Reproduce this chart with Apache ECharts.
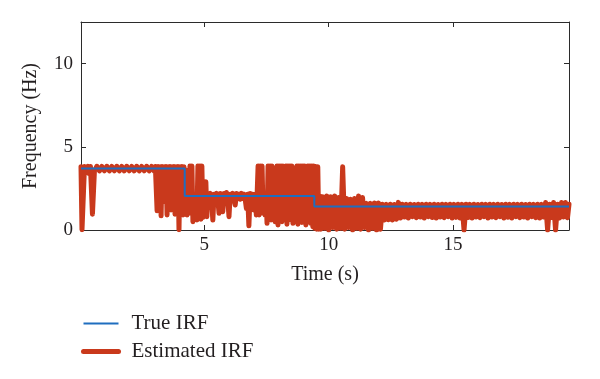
<!DOCTYPE html>
<html>
<head>
<meta charset="utf-8">
<script src="https://cdn.jsdelivr.net/npm/echarts@6/dist/echarts.min.js"></script>
<style>
html,body{margin:0;padding:0;background:#fff;}
#c{width:600px;height:379px;}
</style>
</head>
<body>
<div id="c"></div>
<script>
// ---- data ----
const xTicks = [5, 10, 15];
const yTicks = [0, 5, 10];

const trueTime = [0.04, 4.21, 4.21, 9.42, 9.42, 19.66];
const trueFreq = [3.70, 3.70, 2.04, 2.04, 1.41, 1.41];

// Estimated IRF, [time (s), frequency (Hz)], in pieces
const estStart = [
  [0.04,3.8],[0.08,0.02],[0.14,0.02],[0.18,3.82],[0.26,3.55],[0.32,3.82],[0.36,3.4],[0.42,3.82],
  [0.5,0.95],[0.58,3.55],[0.68,3.83],[0.78,3.55],[0.88,3.82],[0.98,3.56],[1.08,3.83],[1.18,3.55],
  [1.28,3.82],[1.38,3.56],[1.48,3.83],[1.58,3.55],[1.68,3.82],[1.78,3.55],[1.88,3.83],[1.98,3.56],
  [2.08,3.82],[2.18,3.55],[2.28,3.83],[2.38,3.55],[2.48,3.82],[2.58,3.56],[2.68,3.83],[2.78,3.55],
  [2.88,3.82],[2.98,3.55],[3.03,3.82]
];
const estFirstDrop = [
  [3.06,3.82],[3.1,1.15],[3.14,3.82],[3.18,1.8],[3.22,3.8],[3.26,0.85],[3.3,3.82],[3.34,1.7],
  [3.38,3.8],[3.42,1.75],[3.46,3.82],[3.5,0.9],[3.54,3.8],[3.58,1.65],[3.62,3.82],[3.66,1.2],
  [3.7,3.8],[3.74,1.7],[3.78,3.82],[3.82,0.95],[3.86,3.8],[3.9,1.6],[3.94,3.82],[3.98,0.02],
  [4.02,3.8],[4.06,1.5],[4.1,3.82],[4.14,0.9],[4.18,3.8],[4.22,1.7],[4.26,3.6],[4.3,0.9],
  [4.34,2.1],[4.38,1.0],[4.42,3.85],[4.46,1.2],[4.5,3.85],[4.54,0.5],[4.58,2.1],[4.62,1.3],
  [4.66,2.1],[4.7,0.6],[4.74,3.85],[4.78,1.1],[4.82,3.85],[4.86,0.65],[4.9,3.85],[4.94,0.75],
  [4.98,2.9],[5.02,1.2],[5.06,2.9],[5.1,0.8]
];
const estMiddle = [
  [5.14,2.15],[5.19,1.9],[5.24,2.2],[5.29,1.85],[5.34,0.6],[5.39,2.15],[5.44,1.9],[5.49,2.2],
  [5.54,1.85],[5.59,1.0],[5.64,2.2],[5.69,1.85],[5.74,1.1],[5.79,2.2],[5.84,1.9],[5.89,2.25],
  [5.94,1.85],[5.99,0.8],[6.04,2.15],[6.09,1.9],[6.14,2.2],[6.19,1.85],[6.24,1.5],[6.29,2.2],
  [6.34,1.9],[6.39,2.15],[6.44,1.85],[6.49,2.2],[6.54,1.9],[6.59,2.15],[6.64,1.85],[6.69,1.3],
  [6.74,2.15],[6.79,0.25],[6.84,2.2],[6.89,1.7],[6.94,2.15],[6.99,1.2],[7.04,2.15],[7.09,0.9],
  [7.12,2.1]
];
const estSpikes = [
  [7.16,3.85],[7.2,0.9],[7.24,3.85],[7.28,1.2],[7.32,3.85],[7.36,1.0],[7.4,2.1],[7.44,0.9],
  [7.48,2.1],[7.52,0.4],[7.56,3.85],[7.6,0.8],[7.64,3.85],[7.68,0.6],[7.72,3.85],[7.76,1.0],
  [7.8,2.1],[7.84,0.5],[7.88,2.1],[7.92,3.85],[7.96,0.3],[8.0,3.85],[8.04,0.6],[8.08,3.85],
  [8.12,0.5],[8.16,3.85],[8.2,0.7],[8.24,2.1],[8.28,3.85],[8.32,0.35],[8.36,3.85],[8.4,0.6],
  [8.44,3.85],[8.48,0.7],[8.52,3.85],[8.56,0.4],[8.6,2.1],[8.64,0.5],[8.68,2.1],[8.72,3.85],
  [8.76,0.35],[8.8,3.85],[8.84,0.6],[8.88,3.85],[8.92,0.45],[8.96,3.85],[9.0,0.5],[9.04,3.85],
  [9.08,0.3],[9.12,2.1],[9.16,3.85],[9.2,0.5],[9.24,3.85],[9.28,0.4],[9.32,3.85],[9.36,0.2],
  [9.4,3.85],[9.44,0.1],[9.48,3.82],[9.52,0.05],[9.56,3.8]
];
const estSettle = [
  [9.6,0.05],[9.64,2.05],[9.68,0.05],[9.76,2.0],[9.84,0.1],[9.92,2.05],[10.0,0.0],[10.08,2.0],
  [10.16,0.15],[10.24,2.05],[10.32,0.05],[10.4,1.95],[10.48,0.1],[10.56,3.8],[10.64,0.05],[10.72,1.9],
  [10.8,0.15],[10.88,1.85],[10.96,0.0],[11.04,1.9],[11.12,0.1],[11.2,2.05],[11.28,0.05],[11.36,1.95],
  [11.44,0.15],[11.52,1.6],[11.6,0.0],[11.68,1.6],[11.76,0.1],[11.84,1.62],[11.92,0.0],[12.0,1.62],
  [12.08,0.05]
];
const estTail = [
  [12.16,1.55],[12.24,0.6],[12.32,1.54],[12.4,0.62],[12.48,1.55],[12.56,0.6],[12.64,1.53],[12.72,0.65],
  [12.8,1.66],[12.88,0.72],[12.96,1.55],[13.04,0.78],[13.12,1.54],[13.2,0.72],[13.28,1.55],[13.36,0.8],
  [13.44,1.53],[13.52,0.74],[13.6,1.55],[13.68,0.78],[13.76,1.54],[13.84,0.72],[13.92,1.55],[14.0,0.8],
  [14.08,1.54],[14.16,0.75],[14.24,1.55],[14.32,0.72],[14.4,1.53],[14.48,0.78],[14.56,1.55],[14.64,0.74],
  [14.72,1.54],[14.8,0.8],[14.88,1.55],[14.96,0.72],[15.04,1.54],[15.12,0.76],[15.2,1.55],[15.28,0.72],
  [15.36,1.54],[15.44,0.0],[15.52,1.55],[15.6,0.75],[15.68,1.54],[15.76,0.72],[15.84,1.55],[15.92,0.78],
  [16.0,1.53],[16.08,0.74],[16.16,1.55],[16.24,0.8],[16.32,1.54],[16.4,0.72],[16.48,1.55],[16.56,0.78],
  [16.64,1.54],[16.72,0.74],[16.8,1.55],[16.88,0.8],[16.96,1.53],[17.04,0.72],[17.12,1.55],[17.2,0.76],
  [17.28,1.54],[17.36,0.72],[17.44,1.55],[17.52,0.8],[17.6,1.54],[17.68,0.74],[17.76,1.55],[17.84,0.78],
  [17.92,1.53],[18.0,0.72],[18.08,1.55],[18.16,0.8],[18.24,1.54],[18.32,0.74],[18.4,1.55],[18.48,0.72],
  [18.56,1.54],[18.64,0.78],[18.72,1.65],[18.8,0.0],[18.88,1.55],[18.96,0.75],[19.04,1.65],[19.12,0.0],
  [19.2,1.55],[19.28,0.72],[19.36,1.65],[19.44,0.78],[19.52,1.65],[19.6,0.74],[19.66,1.55]
];

// ---- build ----
const estimated = [].concat(estStart, estFirstDrop, estMiddle, estSpikes, estSettle, estTail);
const truePts = trueTime.map((t, i) => [t, trueFreq[i]]);

const FONT = '"Liberation Serif", "DejaVu Serif", serif';
const TXT = '#231f20';
const AX = '#2b2b2b';
const RED = '#c9391c';
const BLUE = '#1f6ebf';

const chart = echarts.init(document.getElementById('c'), null, {renderer: 'canvas'});
const axisCommon = {
  axisLine: {show: true, onZero: false, lineStyle: {color: AX, width: 1}},
  splitLine: {show: false}
};
chart.setOption({
  animation: false,
  backgroundColor: '#fff',
  grid: {left: 81, right: 31, top: 22, bottom: 149},
  xAxis: [
    Object.assign({
      type: 'value', min: 0.04, max: 19.66, position: 'bottom',
      axisTick: {show: true, inside: true, length: 5, customValues: xTicks, lineStyle: {color: AX}},
      axisLabel: {customValues: xTicks, fontFamily: FONT, fontSize: 19, color: TXT, margin: 6},
      name: 'Time (s)', nameLocation: 'middle', nameGap: 35,
      nameTextStyle: {fontFamily: FONT, fontSize: 20, color: TXT}
    }, axisCommon),
    Object.assign({
      type: 'value', min: 0.04, max: 19.66, position: 'top',
      axisTick: {show: true, inside: true, length: 5, customValues: xTicks, lineStyle: {color: AX}},
      axisLabel: {show: false}
    }, axisCommon)
  ],
  yAxis: [
    Object.assign({
      type: 'value', min: 0, max: 12.5, position: 'left',
      axisTick: {show: true, inside: true, length: 5, customValues: [5, 10], lineStyle: {color: AX}},
      axisLabel: {customValues: yTicks, fontFamily: FONT, fontSize: 19, color: TXT, margin: 8},
      name: 'Frequency (Hz)', nameLocation: 'middle', nameGap: 40,
      nameTextStyle: {fontFamily: FONT, fontSize: 20, color: TXT}
    }, axisCommon),
    Object.assign({
      type: 'value', min: 0, max: 12.5, position: 'right',
      axisTick: {show: true, inside: true, length: 5, customValues: [5, 10], lineStyle: {color: AX}},
      axisLabel: {show: false}
    }, axisCommon)
  ],
  legend: {
    data: ['True IRF', 'Estimated IRF'],
    orient: 'vertical', left: 81, top: 313, padding: 0,
    itemWidth: 35, itemHeight: 14, itemGap: 7,
    lineStyle: {width: 'inherit'},
    itemStyle: {color: 'rgba(0,0,0,0)', borderWidth: 0, opacity: 0},
    textStyle: {fontFamily: FONT, fontSize: 21, color: TXT, padding: [0, 0, 0, 8]},
    selectedMode: false
  },
  series: [
    {
      name: 'Estimated IRF', type: 'line', xAxisIndex: 0, yAxisIndex: 0,
      data: estimated, symbol: 'none', showSymbol: false,
      lineStyle: {color: RED, width: 5, cap: 'round', join: 'round'},
      itemStyle: {color: RED}, z: 2
    },
    {
      name: 'True IRF', type: 'line', xAxisIndex: 0, yAxisIndex: 0,
      data: truePts, symbol: 'none', showSymbol: false,
      lineStyle: {color: BLUE, width: 2},
      itemStyle: {color: BLUE}, z: 3
    }
  ]
});
</script>
</body>
</html>
